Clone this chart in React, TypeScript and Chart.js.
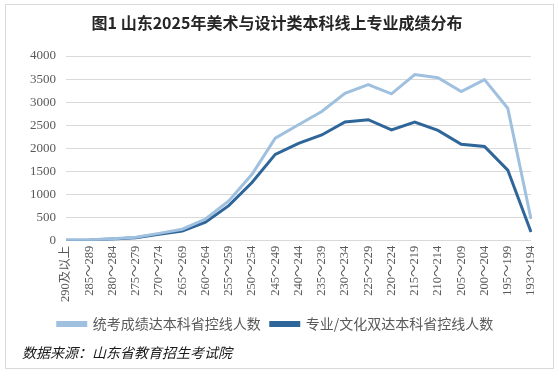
import React, { useEffect, useRef } from "react";
import { Chart, registerables } from "chart.js";

Chart.register(...registerables);

const categories = [
  "290及以上", "285～289", "280～284", "275～279", "270～274", "265～269", "260～264",
  "255～259", "250～254", "245～249", "240～244", "235～239", "230～234", "225～229",
  "220～224", "215～219", "210～214", "205～209", "200～204", "195～199", "193～194",
];
const unifiedExamCounts = [15, 20, 45, 75, 160, 250, 470, 860, 1440, 2220, 2510, 2800, 3190, 3380, 3180, 3600, 3530, 3230, 3490, 2870, 470];
const dualPassCounts = [12, 18, 40, 65, 140, 210, 400, 760, 1260, 1870, 2110, 2290, 2570, 2620, 2400, 2570, 2390, 2090, 2040, 1530, 190];
const seriesNames = ["统考成绩达本科省控线人数", "专业/文化双达本科省控线人数"];
const titleText = "图1 山东2025年美术与设计类本科线上专业成绩分布";
const sourceText = "数据来源：山东省教育招生考试院";

const LIGHT = "#9fc0df";
const DARK = "#2f6699";
const FONT = "'Liberation Serif', 'Noto Sans CJK SC', serif";
const CJK = "'Noto Sans CJK SC', sans-serif";

const decorPlugin = {
  id: "decor",
  beforeDraw(chart: any) {
    const ctx = chart.ctx;
    ctx.save();
    ctx.fillStyle = "#ffffff";
    ctx.fillRect(0, 0, chart.width, chart.height);
    ctx.restore();
  },
  afterDraw(chart: any) {
    const ctx = chart.ctx;
    ctx.save();
    ctx.strokeStyle = "#d9d9d9";
    ctx.lineWidth = 1;
    ctx.strokeRect(5.5, 4.5, 548, 364);
    ctx.fillStyle = "#262626";
    ctx.font = "bold 16px " + CJK;
    ctx.textAlign = "center";
    ctx.textBaseline = "middle";
    ctx.fillText(titleText, 277, 23);
    ctx.font = "italic 14px " + CJK;
    ctx.textAlign = "left";
    ctx.fillStyle = "#1a1a1a";
    ctx.fillText(sourceText, 22, 353);
    ctx.restore();
  },
};

export default function App() {
  const ref = useRef<HTMLCanvasElement | null>(null);
  useEffect(() => {
    document.body.style.margin = "0";
    const chart = new Chart(ref.current as HTMLCanvasElement, {
      type: "line",
      data: {
        labels: categories,
        datasets: [
          {
            label: seriesNames[0],
            data: unifiedExamCounts,
            borderColor: LIGHT,
            backgroundColor: LIGHT,
            borderWidth: 3,
            pointRadius: 0,
            fill: false,
            tension: 0,
          },
          {
            label: seriesNames[1],
            data: dualPassCounts,
            borderColor: DARK,
            backgroundColor: DARK,
            borderWidth: 3,
            pointRadius: 0,
            fill: false,
            tension: 0,
          },
        ],
      },
      options: {
        animation: false,
        responsive: false,
        layout: { padding: { top: 56, left: 20, right: 28, bottom: 36 } },
        plugins: {
          title: { display: false },
          tooltip: { enabled: false },
          legend: {
            position: "bottom",
            labels: {
              boxWidth: 28,
              boxHeight: 3,
              color: "#595959",
              font: { size: 14, family: CJK },
              padding: 10,
            },
          },
        },
        scales: {
          x: {
            grid: { display: false, drawTicks: false },
            border: { display: false },
            ticks: {
              color: "#595959",
              font: { size: 12.5, family: FONT },
              maxRotation: 90,
              minRotation: 90,
              autoSkip: false,
              padding: 5,
            },
          },
          y: {
            min: 0,
            max: 4000,
            grid: { color: "#d9d9d9", lineWidth: 1, drawTicks: false },
            border: { display: false },
            ticks: {
              stepSize: 500,
              color: "#595959",
              font: { size: 13, family: FONT },
              padding: 10,
              callback: (v: any) => String(v),
            },
          },
        },
      },
      plugins: [decorPlugin],
    });
    return () => chart.destroy();
  }, []);
  return <canvas ref={ref} width={559} height={377} style={{ display: "block" }} />;
}
